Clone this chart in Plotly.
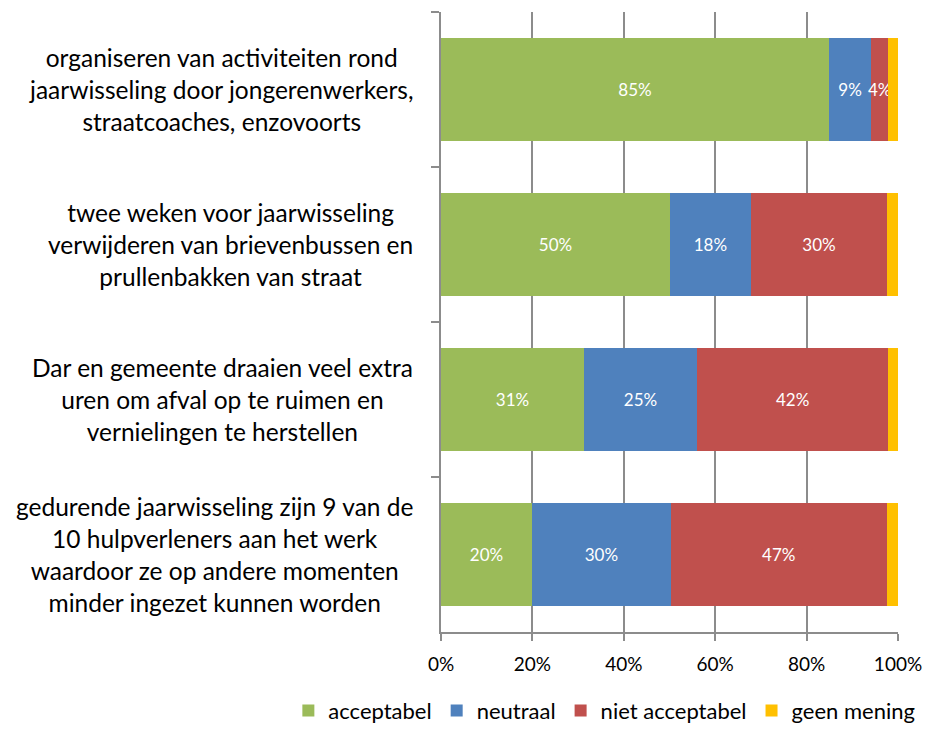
import plotly.graph_objects as go

categories = [
    "organiseren van activiteiten rond<br>jaarwisseling door jongerenwerkers,<br>straatcoaches, enzovoorts",
    "twee weken voor jaarwisseling<br>verwijderen van brievenbussen en<br>prullenbakken van straat",
    "Dar en gemeente draaien veel extra<br>uren om afval op te ruimen en<br>vernielingen te herstellen",
    "gedurende jaarwisseling zijn 9 van de<br>10 hulpverleners aan het werk<br>waardoor ze op andere momenten<br>minder ingezet kunnen worden",
]
acceptabel = [84.9, 50.1, 31.3, 19.9]
neutraal = [9.2, 17.7, 24.7, 30.4]
niet_acceptabel = [3.8, 29.8, 41.9, 47.2]
geen_mening = [2.1, 2.4, 2.1, 2.5]

series = [
    ("acceptabel", acceptabel, "#9BBB59", True),
    ("neutraal", neutraal, "#4F81BD", True),
    ("niet acceptabel", niet_acceptabel, "#C0504D", True),
    ("geen mening", geen_mening, "#FFC000", False),
]

FONT = "Lato, 'Open Sans', sans-serif"

fig = go.Figure()
for name, vals, color, show in series:
    fig.add_trace(go.Bar(
        y=categories, x=vals, name=name, orientation="h",
        marker=dict(color=color, line=dict(width=0)),
        text=[f"{round(v)}%" for v in vals] if show else None,
        textposition="inside" if show else "none",
        insidetextanchor="middle",
        constraintext="none",
        textangle=0,
        textfont=dict(color="white", size=17, family=FONT),
        hoverinfo="x+name",
    ))

# category labels: centred multi-line text, right edge near the axis
for cat in categories:
    fig.add_annotation(
        x=-0.057, xref="paper", xanchor="right",
        y=cat, yref="y", yanchor="middle",
        text=cat, showarrow=False, align="center",
        font=dict(size=24.5, color="black", family=FONT),
    )

fig.update_layout(
    barmode="stack",
    bargap=0.33,
    width=926, height=733,
    margin=dict(l=441, r=28, t=12, b=101, autoexpand=False),
    plot_bgcolor="white", paper_bgcolor="white",
    font=dict(family=FONT, color="black"),
    showlegend=True,
    legend=dict(
        orientation="h", xref="paper", yref="paper",
        x=-0.334, xanchor="left", y=-0.161, yanchor="bottom",
        font=dict(size=22, color="black"),
        traceorder="normal", itemwidth=30,
    ),
    xaxis=dict(
        range=[0, 100], dtick=20, ticksuffix="%",
        showgrid=True, gridcolor="#8c8c8c", gridwidth=1.5,
        zeroline=False, showline=True, linecolor="#8c8c8c", linewidth=2,
        automargin=False,
        ticks="outside", ticklen=7, tickcolor="#8c8c8c", tickwidth=2,
        tickfont=dict(size=19, color="black"),
        ticklabelstandoff=7,
    ),
    yaxis=dict(
        autorange="reversed", automargin=False,
        showline=True, linecolor="#8c8c8c", linewidth=2,
        ticks="outside", tickson="boundaries", ticklen=8,
        tickcolor="#8c8c8c", tickwidth=2,
        showticklabels=False,
        showgrid=False,
    ),
)

fig.write_html(
    "out.html",
    config={"displayModeBar": False},
    post_script="document.body.style.margin='0';document.body.style.overflow='hidden';",
)
